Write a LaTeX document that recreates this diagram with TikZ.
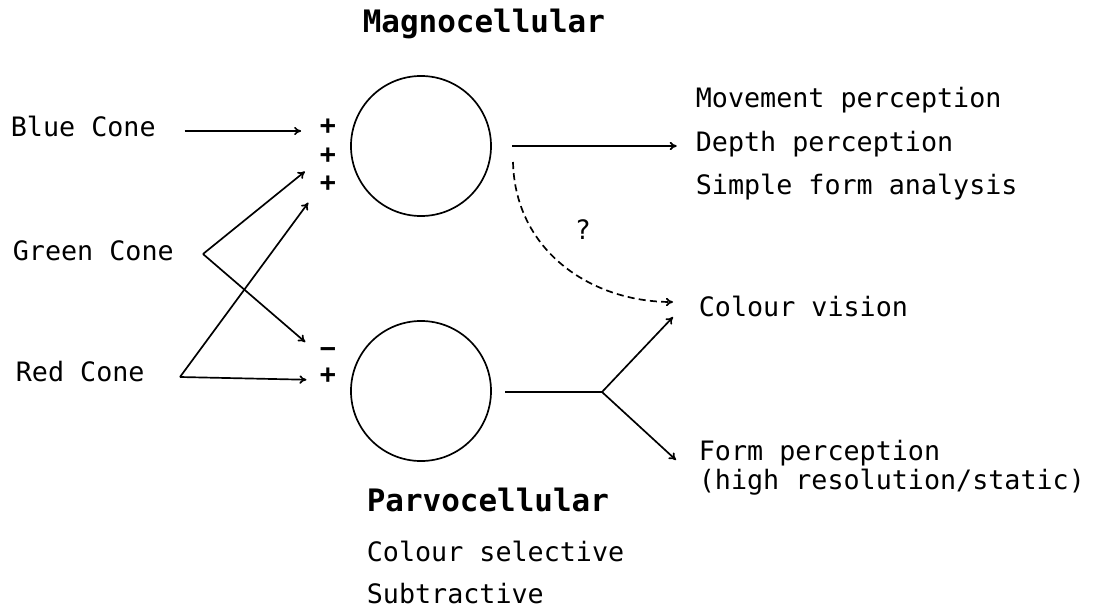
\documentclass[tikz,border=0pt]{standalone}
\usepackage{fontspec}
\newfontfamily\plotfont{DejaVu Sans Mono}
\usetikzlibrary{arrows.meta}
\begin{document}
\begin{tikzpicture}[x=0.025cm,y=-0.025cm,line width=1.2pt,>={To[length=5pt,width=6pt]},
  lbl/.style={anchor=west, inner sep=0pt, text height=0.73em, text depth=0pt, font=\plotfont\fontsize{19}{23}\selectfont},
  ttl/.style={anchor=west, inner sep=0pt, text height=0.73em, text depth=0pt, font=\plotfont\bfseries\fontsize{22}{26}\selectfont},
  sign/.style={inner sep=0pt, text height=0.5em, text depth=0pt, font=\plotfont\bfseries\fontsize{19}{23}\selectfont},
  cell/.style={draw, circle, inner sep=0pt, minimum size=3.5cm}]
\useasboundingbox (0,0) rectangle (1105,612);

% the two cell layers
\node[ttl] (magnotitle) at (362,27) {Magnocellular};
\node[cell] (magno) at (421,146) {};
\node[cell] (parvo) at (421,391) {};
\node[ttl] (parvotitle) at (366,506) {Parvocellular};
\node[lbl] (selective) at (366,556) {Colour selective};
\node[lbl] (subtract) at (366,598) {Subtractive};

% cone inputs
\node[lbl] (blue) at (10,131) {Blue Cone};
\node[lbl] (green) at (12,255) {Green Cone};
\node[lbl] (red) at (15,376) {Red Cone};
\node[sign] (bplus) at (328,131) {+};
\node[sign] (gplus) at (328,160) {+};
\node[sign] (rplus) at (328,188) {+};
\node[sign] (gminus) at (328,354) {−};
\node[sign] (rplustwo) at (328,380) {+};
\coordinate (gvert) at (203,254);
\coordinate (rvert) at (180,377);

% outputs
\node[lbl] (move) at (695,102) {Movement perception};
\node[lbl] (depth) at (695,146) {Depth perception};
\node[lbl] (simple) at (695,189) {Simple form analysis};
\node[lbl] (colour) at (698,311) {Colour vision};
\node[lbl] (form) at (698,455) {Form perception};
\node[lbl] (formres) at (698,484) {(high resolution/static)};
\node[lbl, anchor=center] (query) at (583,234) {?};
\coordinate (magnoout) at (512,146);
\coordinate (magnodash) at (513,162);
\coordinate (parvoout) at (505,392);
\coordinate (fork) at (602,392);
\coordinate (colourtop) at ([shift={(-25,-9)}]colour.west);
\coordinate (colourlow) at ([shift={(-25,6)}]colour.west);
\coordinate (formin) at ([shift={(-22,5)}]form.west);

\draw[->, shorten <=20pt, shorten >=12.8pt] (blue.east) -- (bplus.west);
\draw[->, shorten >=13pt] (gvert) -- (gplus.west);
\draw[->, shorten >=13pt] (gvert) -- (gminus.west);
\draw[->, shorten >=13pt] (rvert) -- (rplus.west);
\draw[->, shorten >=9pt] (rvert) -- (rplustwo.west);

\draw[->, shorten >=13pt] (magnoout) -- (depth.west);
\draw[->, dash pattern=on 5pt off 3pt] (magnodash) .. controls (515,250) and (590,302) .. (colourtop);
\draw (parvoout) -- (fork);
\draw[->] (fork) -- (colourlow);
\draw[->] (fork) -- (formin);
\end{tikzpicture}
\end{document}
